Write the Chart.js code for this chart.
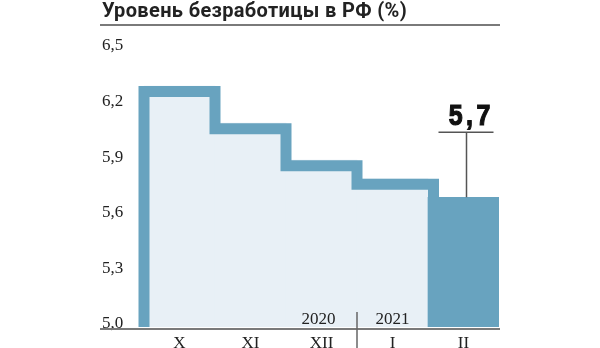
<!DOCTYPE html>
<html>
<head>
<meta charset="utf-8">
<script src="https://cdn.jsdelivr.net/npm/chart.js@4/dist/chart.umd.min.js"></script>
<style>
  html, body { margin: 0; padding: 0; background: #fff; }
  #wrap { width: 600px; height: 348px; }
</style>
</head>
<body>
<div id="wrap"><canvas id="chart" width="600" height="348"></canvas></div>
<script>
// данные
const months = ['X', 'XI', 'XII', 'I', 'II'];
const rates = [6.3, 6.1, 5.9, 5.8, 5.7];
const yTicks = [5.0, 5.3, 5.6, 5.9, 6.2, 6.5];
const years = ['2020', '2021'];
const yearIndex = [2, 3]; // под каким месяцем стоит подпись года

const BLUE = '#68a3bf';
const LIGHT = '#e8f0f6';
const TEXT = '#222';
const SERIF = '"Liberation Serif", "DejaVu Serif", serif';

const fmt = v => v.toFixed(1).replace('.', ',');

// ступенчатая рамка поверх светлых столбиков
const stepOutline = {
  id: 'stepOutline',
  afterDatasetsDraw(chart) {
    const ctx = chart.ctx;
    const bars = chart.getDatasetMeta(0).data;
    const bottom = chart.chartArea.bottom;
    const lw = 11, h = lw / 2;
    const last = bars.length - 1;
    ctx.save();
    ctx.strokeStyle = BLUE;
    ctx.lineWidth = lw;
    ctx.lineJoin = 'miter';
    ctx.lineCap = 'butt';
    ctx.beginPath();
    const left0 = bars[0].x - bars[0].width / 2;
    ctx.moveTo(left0, bottom);
    ctx.lineTo(left0, bars[0].y + h);
    for (let i = 0; i < last; i++) {
      const right = bars[i].x + bars[i].width / 2;
      if (i < last - 1) {
        ctx.lineTo(right, bars[i].y + h);
        ctx.lineTo(right, bars[i + 1].y + h);
      } else {
        ctx.lineTo(right + h, bars[i].y + h);
        ctx.lineTo(right + h, bars[last].y + 1);
      }
    }
    ctx.stroke();
    ctx.restore();
  }
};

// заголовок, оси, годы и выноска
const decorations = {
  id: 'decorations',
  afterDraw(chart) {
    const ctx = chart.ctx;
    const bars = chart.getDatasetMeta(0).data;
    const bottom = chart.chartArea.bottom;
    ctx.save();

    // заголовок
    ctx.fillStyle = TEXT;
    ctx.font = 'bold 20px Roboto, "Noto Sans", sans-serif';
    ctx.letterSpacing = '0.35px';
    ctx.textAlign = 'left';
    ctx.textBaseline = 'alphabetic';
    ctx.fillText('Уровень безработицы в РФ (%)', 102, 17);
    ctx.letterSpacing = '0px';

    ctx.strokeStyle = '#7a7a7a';
    ctx.lineWidth = 2;
    ctx.beginPath();
    ctx.moveTo(100, 25);
    ctx.lineTo(500, 25);
    ctx.stroke();

    // линия оси X
    ctx.beginPath();
    ctx.moveTo(100, bottom + 2);
    ctx.lineTo(500, bottom + 2);
    ctx.stroke();

    // разделитель годов
    const sep = bars[yearIndex[1]].x - bars[yearIndex[1]].width / 2;
    ctx.strokeStyle = '#666';
    ctx.lineWidth = 1.5;
    ctx.beginPath();
    ctx.moveTo(sep, bottom - 15);
    ctx.lineTo(sep, 348);
    ctx.stroke();

    ctx.fillStyle = TEXT;
    ctx.font = '17px ' + SERIF;
    ctx.textAlign = 'center';
    ctx.textBaseline = 'middle';
    years.forEach((y, i) => {
      ctx.fillText(y, bars[yearIndex[i]].x - (i === 0 ? 3 : 0), bottom - 7);
    });

    // выноска последнего значения
    const b = bars[bars.length - 1];
    const cx = b.x + 2;
    ctx.strokeStyle = '#555';
    ctx.lineWidth = 1.5;
    ctx.beginPath();
    ctx.moveTo(cx + 1, b.y);
    ctx.lineTo(cx + 1, b.y - 65);
    ctx.moveTo(cx - 27, b.y - 65);
    ctx.lineTo(cx + 28, b.y - 65);
    ctx.stroke();

    // узкий жирный шрифт: сжимаем Liberation Sans по горизонтали
    const label = fmt(rates[rates.length - 1]);
    const sx = 0.86;
    ctx.fillStyle = '#111';
    ctx.strokeStyle = '#111';
    ctx.lineWidth = 1.2;
    ctx.font = 'bold 29px "Liberation Sans", Arial, sans-serif';
    ctx.letterSpacing = '4px';
    ctx.textAlign = 'left';
    ctx.textBaseline = 'alphabetic';
    const w = (ctx.measureText(label).width - 4) * sx;
    ctx.translate(cx + 4 - w / 2, b.y - 72);
    ctx.scale(sx, 1);
    ctx.fillText(label, 0, 0);
    ctx.strokeText(label, 0, 0);
    ctx.restore();
  }
};

new Chart(document.getElementById('chart'), {
  type: 'bar',
  data: {
    labels: months,
    datasets: [{
      data: rates,
      backgroundColor: rates.map((v, i) => i === rates.length - 1 ? BLUE : LIGHT),
      borderWidth: 0,
      categoryPercentage: 1,
      barPercentage: 1
    }]
  },
  options: {
    responsive: false,
    animation: false,
    layout: { padding: { left: 102, top: 49, right: 101, bottom: 0 } },
    plugins: {
      legend: { display: false },
      tooltip: { enabled: false }
    },
    scales: {
      x: {
        grid: { display: false, drawTicks: false },
        border: { display: false },
        ticks: { color: TEXT, font: { family: SERIF, size: 17 }, padding: 6 },
        afterFit: s => { s.height = 21; }
      },
      y: {
        min: 5.0,
        max: 6.5,
        grid: { display: false, drawTicks: false },
        border: { display: false },
        afterBuildTicks: s => { s.ticks = yTicks.map(v => ({ value: v })); },
        afterFit: s => { s.width = 42; },
        ticks: {
          color: TEXT,
          font: { family: SERIF, size: 17 },
          crossAlign: 'far',
          padding: 0,
          labelOffset: -3,
          callback: v => fmt(v)
        }
      }
    }
  },
  plugins: [stepOutline, decorations]
});
</script>
</body>
</html>
